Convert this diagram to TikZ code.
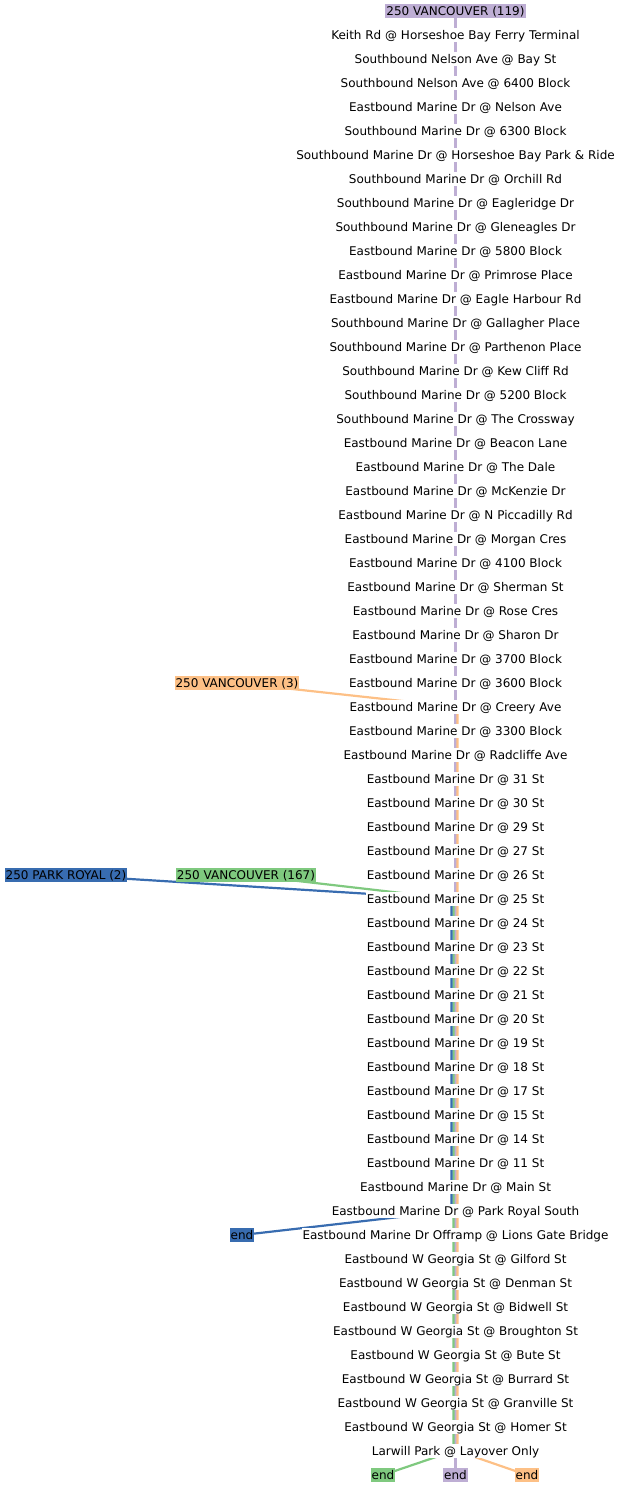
\documentclass[tikz,border=0pt]{standalone}
\usepackage{fontspec}
\setmainfont{DejaVu Sans}
\usetikzlibrary{calc, backgrounds}

\begin{document}
\begin{tikzpicture}[x=1pt, y=-1pt,
    stop/.style={fill=white, inner xsep=1pt, inner ysep=1.2pt, text height=10.5pt, text depth=1.5pt, font=\fontsize{12}{14}\selectfont},
    routelabel/.style={stop, fill=#1},
    route/.style={line width=2.2pt, draw=#1}]
    \definecolor{purpleRoute}{HTML}{BEAED4}
    \definecolor{orangeRoute}{HTML}{FDC086}
    \definecolor{greenRoute}{HTML}{7FC97F}
    \definecolor{blueRoute}{HTML}{386CB0}

    \def\stopX{455.5}
    \def\firstY{35}
    \def\rowGap{24}

    \useasboundingbox (0,0) rectangle (621,1488);

    % Stops, top to bottom
    \foreach \stopName [count=\i] in {
        Keith Rd @ Horseshoe Bay Ferry Terminal,
        Southbound Nelson Ave @ Bay St,
        Southbound Nelson Ave @ 6400 Block,
        Eastbound Marine Dr @ Nelson Ave,
        Southbound Marine Dr @ 6300 Block,
        Southbound Marine Dr @ Horseshoe Bay Park \& Ride,
        Southbound Marine Dr @ Orchill Rd,
        Southbound Marine Dr @ Eagleridge Dr,
        Southbound Marine Dr @ Gleneagles Dr,
        Eastbound Marine Dr @ 5800 Block,
        Eastbound Marine Dr @ Primrose Place,
        Eastbound Marine Dr @ Eagle Harbour Rd,
        Southbound Marine Dr @ Gallagher Place,
        Southbound Marine Dr @ Parthenon Place,
        Southbound Marine Dr @ Kew Cliff Rd,
        Southbound Marine Dr @ 5200 Block,
        Southbound Marine Dr @ The Crossway,
        Eastbound Marine Dr @ Beacon Lane,
        Eastbound Marine Dr @ The Dale,
        Eastbound Marine Dr @ McKenzie Dr,
        Eastbound Marine Dr @ N Piccadilly Rd,
        Eastbound Marine Dr @ Morgan Cres,
        Eastbound Marine Dr @ 4100 Block,
        Eastbound Marine Dr @ Sherman St,
        Eastbound Marine Dr @ Rose Cres,
        Eastbound Marine Dr @ Sharon Dr,
        Eastbound Marine Dr @ 3700 Block,
        Eastbound Marine Dr @ 3600 Block,
        Eastbound Marine Dr @ Creery Ave,
        Eastbound Marine Dr @ 3300 Block,
        Eastbound Marine Dr @ Radcliffe Ave,
        Eastbound Marine Dr @ 31 St,
        Eastbound Marine Dr @ 30 St,
        Eastbound Marine Dr @ 29 St,
        Eastbound Marine Dr @ 27 St,
        Eastbound Marine Dr @ 26 St,
        Eastbound Marine Dr @ 25 St,
        Eastbound Marine Dr @ 24 St,
        Eastbound Marine Dr @ 23 St,
        Eastbound Marine Dr @ 22 St,
        Eastbound Marine Dr @ 21 St,
        Eastbound Marine Dr @ 20 St,
        Eastbound Marine Dr @ 19 St,
        Eastbound Marine Dr @ 18 St,
        Eastbound Marine Dr @ 17 St,
        Eastbound Marine Dr @ 15 St,
        Eastbound Marine Dr @ 14 St,
        Eastbound Marine Dr @ 11 St,
        Eastbound Marine Dr @ Main St,
        Eastbound Marine Dr @ Park Royal South,
        Eastbound Marine Dr Offramp @ Lions Gate Bridge,
        Eastbound W Georgia St @ Gilford St,
        Eastbound W Georgia St @ Denman St,
        Eastbound W Georgia St @ Bidwell St,
        Eastbound W Georgia St @ Broughton St,
        Eastbound W Georgia St @ Bute St,
        Eastbound W Georgia St @ Burrard St,
        Eastbound W Georgia St @ Granville St,
        Eastbound W Georgia St @ Homer St,
        Larwill Park @ Layover Only}
        \node[stop] (s\i) at (\stopX, {\firstY+\rowGap*(\i-1)}) {\stopName};

    % Route start labels
    \node[routelabel=purpleRoute] (v119) at (\stopX, 11) {250 VANCOUVER (119)};
    \node[routelabel=orangeRoute] (v3) at (237, 683) {250 VANCOUVER (3)};
    \node[routelabel=blueRoute] (pr2) at (66, 875) {250 PARK ROYAL (2)};
    \node[routelabel=greenRoute] (v167) at (246, 875) {250 VANCOUVER (167)};

    % Route end labels
    \node[routelabel=blueRoute] (endB) at (242, 1235) {end};
    \node[routelabel=greenRoute] (endG) at (383, 1475) {end};
    \node[routelabel=purpleRoute] (endP) at (\stopX, 1475) {end};
    \node[routelabel=orangeRoute] (endO) at (527, 1475) {end};

    % Route lines, behind the labels
    \begin{pgfonlayer}{background}
        \draw[route=purpleRoute] (v119.center) -- (endP.center);
        \draw[route=orangeRoute] (v3.center) -- ($(s29.center)+(2,0)$) -- ($(s60.center)+(2,0)$) -- (endO.center);
        \draw[route=greenRoute] (v167.center) -- ($(s37.center)+(-2,0)$) -- ($(s60.center)+(-2,0)$) -- (endG.center);
        \draw[route=blueRoute] (pr2.center) -- ($(s37.center)+(-4,0)$) -- ($(s50.center)+(-4,0)$) -- (endB.center);
    \end{pgfonlayer}

\end{tikzpicture}
\end{document}
